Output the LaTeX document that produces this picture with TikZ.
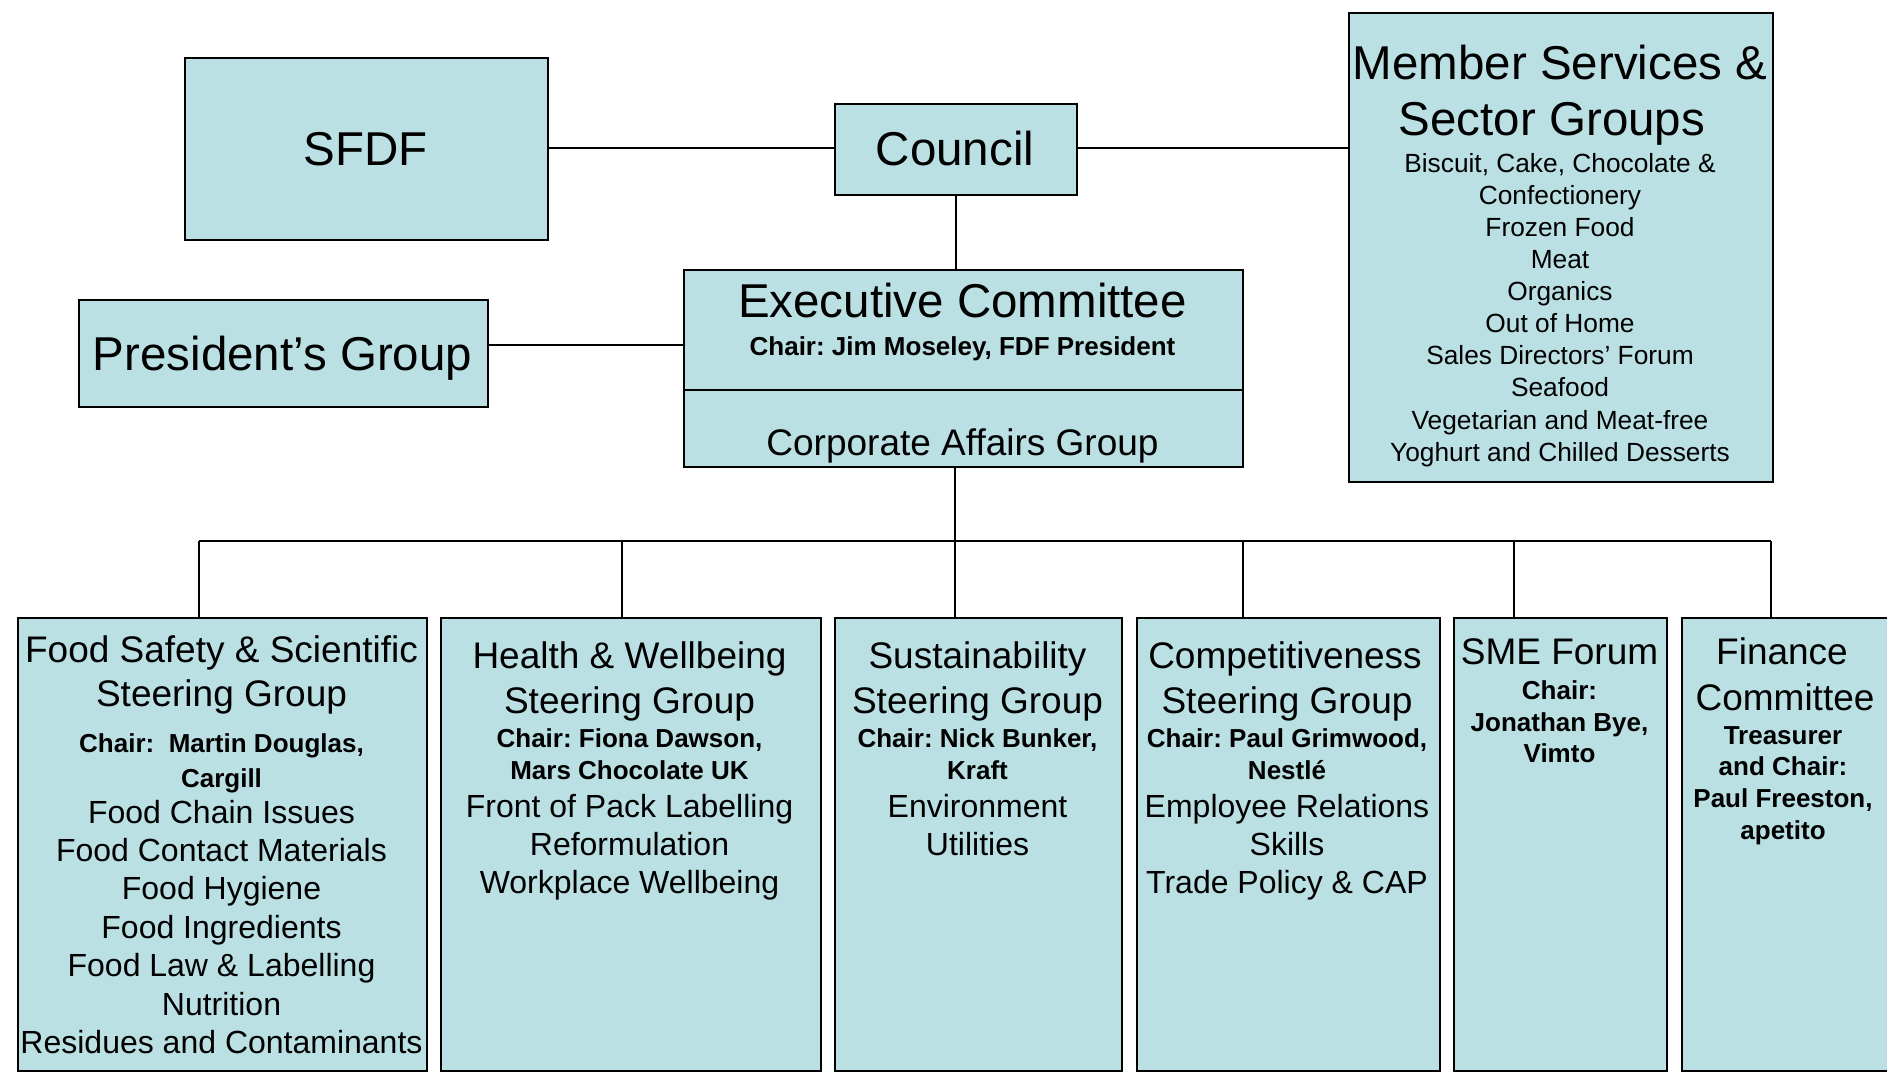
\documentclass[tikz,border=0pt]{standalone}
\usepackage{fontspec}
\setmainfont{Liberation Sans}
\definecolor{boxfill}{RGB}{186,224,228}
\newcommand\fsz[1]{\fontsize{#1}{#1}\selectfont}
\frenchspacing
\begin{document}
\begin{tikzpicture}[x=1pt,y=-1pt,
  box/.style={draw=black,fill=boxfill,line width=1.8pt,inner sep=0pt,anchor=north west},
  conn/.style={draw=black,line width=1.6pt},
  txt/.style={inner sep=0pt,anchor=base},
  big/.style={txt,font=\fsz{47.5}},
  ttl/.style={txt,font=\fsz{37}},
  itm/.style={txt,font=\fsz{32}},
  chr/.style={txt,font=\fsz{26}\bfseries},
  lst/.style={txt,font=\fsz{26.3}}]
\clip (0,0) rectangle (1887,1074);
\fill[white] (0,0) rectangle (1887,1074);

% ---------- top boxes ----------
\node[box,minimum width=363pt,minimum height=182pt] (sfdf) at (184,57) {};
\node[box,minimum width=242pt,minimum height=91pt] (council) at (834,103) {};
\node[box,minimum width=424pt,minimum height=469pt] (member) at (1348,12) {};
\node[box,minimum width=559pt,minimum height=197pt] (exec) at (683,269) {};
\node[box,minimum width=409pt,minimum height=107pt] (pres) at (78,299) {};
\coordinate (split) at (962,390);
\draw[conn,line width=1.8pt] (exec.west |- split) -- (exec.east |- split);

% ---------- bottom boxes ----------
\node[box,minimum width=409pt,minimum height=453pt] (b1) at (17,617) {};
\node[box,minimum width=380pt,minimum height=453pt] (b2) at (440,617) {};
\node[box,minimum width=287pt,minimum height=453pt] (b3) at (834,617) {};
\node[box,minimum width=303pt,minimum height=453pt] (b4) at (1136,617) {};
\node[box,minimum width=213pt,minimum height=453pt] (b5) at (1453,617) {};
\node[box,minimum width=210pt,minimum height=453pt] (b6) at (1681,617) {};

% ---------- connectors ----------
\coordinate (hl) at (955,148);
\draw[conn] (sfdf.east |- hl) -- (council.west |- hl);
\draw[conn] (council.east |- hl) -- (member.west |- hl);
\draw[conn] (council.south) -- (council.south |- exec.north);
\draw[conn] ([yshift=8.5pt]pres.east) -- ([yshift=8.5pt]pres.east -| exec.west);
\coordinate (t1) at (199,541);
\coordinate (t2) at (622,541);
\coordinate (t3) at (955,541);
\coordinate (t4) at (1243,541);
\coordinate (t5) at (1514,541);
\coordinate (t6) at (1771,541);
\draw[conn] (t3 |- exec.south) -- (t3);
\draw[conn] (t1) -- (t6);
\draw[conn] (t1) -- (t1 |- b1.north);
\draw[conn] (t2) -- (t2 |- b2.north);
\draw[conn] (t3) -- (t3 |- b3.north);
\draw[conn] (t4) -- (t4 |- b4.north);
\draw[conn] (t5) -- (t5 |- b5.north);
\draw[conn] (t6) -- (t6 |- b6.north);

% ---------- top texts ----------
\node[big] (sfdft) at (365.5,165.5) {SFDF};
\node[big] (councilt) at (955,165.5) {Council};
\node[big] (presst) at (282.5,370) {President’s Group};
\node[big] (exect) at (962.5,317.5) {Executive Committee};
\node[chr] (execc) at (962.5,355) {Chair: Jim Moseley, FDF President};
\node[txt,font=\fsz{37}] (corp) at (962.5,455.5) {Corporate Affairs Group};
\node[big] (mem1) at (1560,79.3) {Member Services \&};
\node[big] (mem2) at (1552,135.3) {Sector Groups};
\foreach \t [count=\i from 0] in {{Biscuit, Cake, Chocolate \&},Confectionery,Frozen Food,Meat,Organics,Out of Home,Sales Directors’ Forum,Seafood,Vegetarian and Meat-free,Yoghurt and Chilled Desserts}
  \node[lst] (ml\i) at (1560,172.5+32.07*\i) {\t};

% ---------- box 1 ----------
\node[ttl] (b1a) at (221.5,662.5) {Food Safety \& Scientific};
\node[ttl] (b1b) at (221.5,706.5) {Steering Group};
\node[chr] (b1c) at (221.5,752) {Chair:\ \ Martin Douglas,};
\node[chr] (b1d) at (221.5,787) {Cargill};
\foreach \t [count=\i from 0] in {Food Chain Issues,Food Contact Materials,Food Hygiene,Food Ingredients,Food Law \& Labelling,Nutrition,Residues and Contaminants}
  \node[itm] (b1i\i) at (221.5,823+38.4*\i) {\t};

% ---------- box 2 ----------
\node[ttl] (b2a) at (629.5,668.5) {Health \& Wellbeing};
\node[ttl] (b2b) at (629.5,713.3) {Steering Group};
\node[chr] (b2c) at (629.5,747.7) {Chair: Fiona Dawson,};
\node[chr] (b2d) at (629.5,779.3) {Mars Chocolate UK};
\foreach \t [count=\i from 0] in {Front of Pack Labelling,Reformulation,Workplace Wellbeing}
  \node[itm] (b2i\i) at (629.5,817.5+38.1*\i) {\t};

% ---------- box 3 ----------
\node[ttl] (b3a) at (977.5,668.5) {Sustainability};
\node[ttl] (b3b) at (977.5,713.3) {Steering Group};
\node[chr] (b3c) at (977.5,747.7) {Chair: Nick Bunker,};
\node[chr] (b3d) at (977.5,779.3) {Kraft};
\foreach \t [count=\i from 0] in {Environment,Utilities}
  \node[itm] (b3i\i) at (977.5,817.5+38.1*\i) {\t};

% ---------- box 4 ----------
\node[ttl] (b4a) at (1285,668.5) {Competitiveness};
\node[ttl] (b4b) at (1287,713.3) {Steering Group};
\node[chr] (b4c) at (1287,747.7) {Chair: Paul Grimwood,};
\node[chr] (b4d) at (1287,779.3) {Nestlé};
\foreach \t [count=\i from 0] in {Employee Relations,Skills,Trade Policy \& CAP}
  \node[itm] (b4i\i) at (1287,817.5+38.1*\i) {\t};

% ---------- box 5 ----------
\node[ttl] (b5a) at (1559.5,664.5) {SME Forum};
\node[chr] (b5b) at (1559.5,699.5) {Chair:};
\node[chr] (b5c) at (1559.5,731) {Jonathan Bye,};
\node[chr] (b5d) at (1559.5,762.7) {Vimto};

% ---------- box 6 ----------
\node[ttl] (b6a) at (1782,664.5) {Finance};
\node[ttl] (b6b) at (1785,710.3) {Committee};
\node[chr] (b6c) at (1783,744.3) {Treasurer};
\node[chr] (b6d) at (1783,775.8) {and Chair:};
\node[chr] (b6e) at (1783,807.8) {Paul Freeston,};
\node[chr] (b6f) at (1783,839.3) {apetito};
\end{tikzpicture}
\end{document}
